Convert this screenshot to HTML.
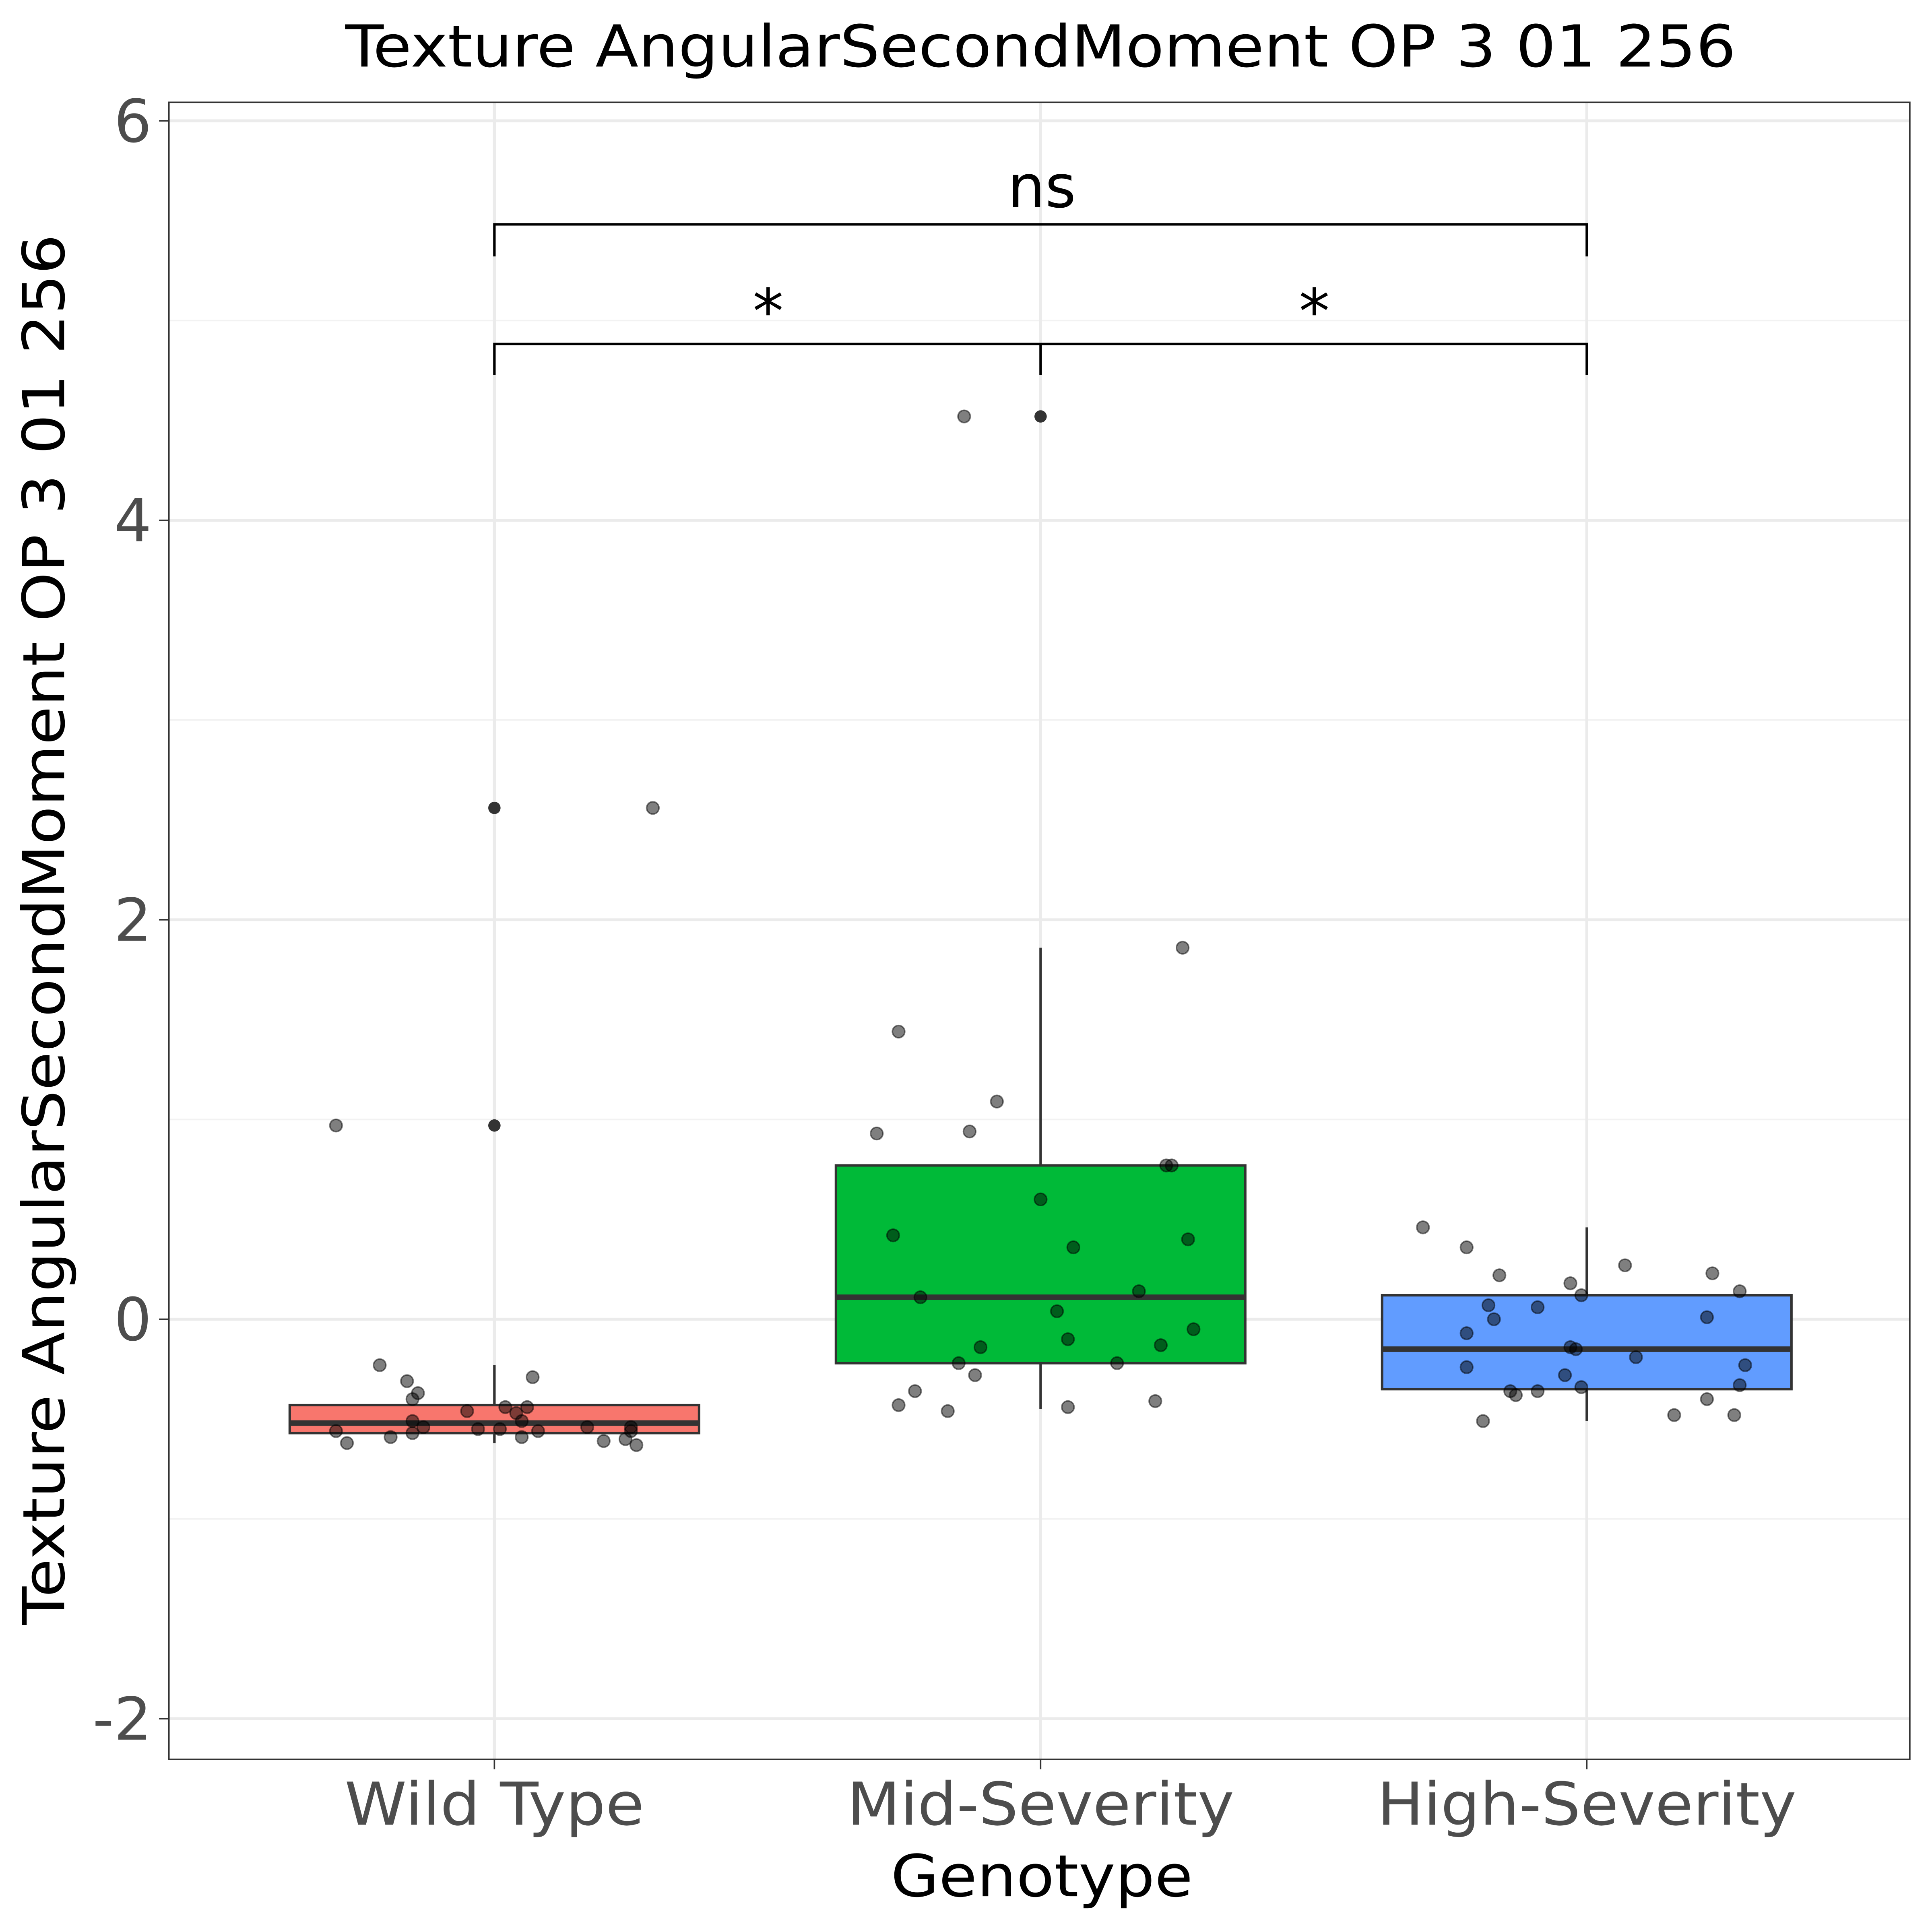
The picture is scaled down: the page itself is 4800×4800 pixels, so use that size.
<!DOCTYPE html>
<html><head><meta charset="utf-8"><style>
html,body{margin:0;padding:0;background:#fff;}
svg{display:block;}
text{font-family:"DejaVu Sans","Liberation Sans",sans-serif;}
</style></head><body>
<svg id="chart" width="4800" height="4800" viewBox="0 0 1567 1567" xmlns="http://www.w3.org/2000/svg">
<rect x="0" y="0" width="1567" height="1567" fill="#fff"/>
<g id="grid"></g>
<g id="boxes"></g>
<g id="points"></g>
<rect x="137" y="83" width="1412" height="1344" fill="none" stroke="#333" stroke-width="1.2"/>
<g id="axes"></g>
<g id="sig"></g>
<text x="844" y="54" font-size="47" text-anchor="middle" textLength="1128" lengthAdjust="spacingAndGlyphs" fill="#000">Texture AngularSecondMoment OP 3 01 256</text>
<text x="845" y="1538" font-size="47" text-anchor="middle" textLength="245" lengthAdjust="spacingAndGlyphs" fill="#000">Genotype</text>
<text transform="translate(52,754) rotate(-90)" font-size="47" text-anchor="middle" textLength="1128" lengthAdjust="spacingAndGlyphs" fill="#000">Texture AngularSecondMoment OP 3 01 256</text>
</svg>
<script>
const categories = ["Wild Type","Mid-Severity","High-Severity"];
const colors = ["#F8766D","#00BA38","#619CFF"];
const yTicks = [-2,0,2,4,6];
const yMinor = [-1,1,3,5];
const q1 = [-0.57,-0.22,-0.35];
const med = [-0.52,0.11,-0.15];
const q3 = [-0.43,0.77,0.12];
const whiskLo = [-0.62,-0.45,-0.51];
const whiskHi = [-0.23,1.86,0.46];
const outlierCat = [0,0,1];
const outlierVal = [0.97,2.56,4.52];
const wtVals = [0.97,2.56,-0.23,-0.31,-0.40,-0.37,-0.29,-0.46,-0.44,-0.44,-0.47,-0.51,-0.54,-0.57,-0.56,-0.62,-0.59,-0.55,-0.55,-0.51,-0.56,-0.59,-0.54,-0.54,-0.56,-0.61,-0.60,-0.63];
const wtJit = [-0.29,0.29,-0.21,-0.16,-0.15,-0.14,0.07,-0.05,0.02,0.06,0.04,-0.15,-0.13,-0.15,-0.29,-0.27,-0.19,-0.03,0.01,0.05,0.08,0.05,0.17,0.25,0.25,0.20,0.24,0.26];
const midVals = [4.52,1.86,1.44,1.09,0.93,0.94,0.77,0.77,0.60,0.42,0.36,0.40,0.11,0.14,0.04,-0.05,-0.10,-0.14,-0.13,-0.22,-0.22,-0.28,-0.36,-0.41,-0.43,-0.46,-0.44];
const midJit = [-0.14,0.26,-0.26,-0.08,-0.30,-0.13,0.23,0.24,0,-0.27,0.06,0.27,-0.22,0.18,0.03,0.28,0.05,-0.11,0.22,-0.15,0.14,-0.12,-0.23,0.21,-0.26,-0.17,0.05];
const highVals = [0.46,0.36,0.27,0.22,0.23,0.18,0.14,0.12,0.07,0.06,0.00,0.01,-0.07,-0.14,-0.15,-0.19,-0.24,-0.23,-0.28,-0.36,-0.38,-0.36,-0.34,-0.33,-0.40,-0.51,-0.48,-0.48];
const highJit = [-0.30,-0.22,0.07,-0.16,0.23,-0.03,0.28,-0.01,-0.18,-0.09,-0.17,0.22,-0.22,-0.03,-0.02,0.09,-0.22,0.29,-0.04,-0.14,-0.13,-0.09,-0.01,0.28,0.22,-0.19,0.16,0.27];
const tickLen = [243,314,340];
const NS="http://www.w3.org/2000/svg";
function y(v){return 1070-162*v;}
function x(i){return 401+443*i;}
function mk(tag,attrs,parent){const e=document.createElementNS(NS,tag);for(const k in attrs)e.setAttribute(k,attrs[k]);parent.appendChild(e);return e;}
const grid=document.getElementById('grid'),axes=document.getElementById('axes'),boxes=document.getElementById('boxes'),pts=document.getElementById('points'),sig=document.getElementById('sig');
yMinor.forEach(v=>{const l=mk('line',{x1:137,x2:1549,y1:y(v),y2:y(v),stroke:'#f2f2f2','stroke-width':1.2},grid);

});
yTicks.forEach(v=>{const l=mk('line',{x1:137,x2:1549,y1:y(v),y2:y(v),stroke:'#ebebeb','stroke-width':2.4},grid);


const t=mk('line',{x1:129,x2:137,y1:y(v),y2:y(v),stroke:'#333','stroke-width':1.2},axes);


const tx=mk('text',{x:123,y:y(v)+17,'font-size':48,'text-anchor':'end',fill:'#4d4d4d'},axes);tx.textContent=String(v);

});
categories.forEach((c,i)=>{const l=mk('line',{x1:x(i),x2:x(i),y1:83,y2:1427,stroke:'#ebebeb','stroke-width':2.4},grid);


const t=mk('line',{x1:x(i),x2:x(i),y1:1427,y2:1435,stroke:'#333','stroke-width':1.2},axes);


const tx=mk('text',{x:x(i),y:1480,'font-size':48,'text-anchor':'middle',textLength:tickLen[i],lengthAdjust:'spacingAndGlyphs',fill:'#4d4d4d'},axes);tx.textContent=c;


const w=mk('line',{x1:x(i),x2:x(i),y1:y(whiskHi[i]),y2:y(whiskLo[i]),stroke:'#333','stroke-width':2},boxes);


const b=mk('rect',{x:x(i)-166,width:332,y:y(q3[i]),height:y(q1[i])-y(q3[i]),fill:colors[i],stroke:'#333','stroke-width':2},boxes);


const m=mk('line',{x1:x(i)-166,x2:x(i)+166,y1:y(med[i]),y2:y(med[i]),stroke:'#333','stroke-width':4.5},boxes);

});
outlierVal.forEach((v,k)=>{const o=mk('circle',{cx:x(outlierCat[k]),cy:y(v),r:5,fill:'#333'},pts);

});
[[wtVals,wtJit],[midVals,midJit],[highVals,highJit]].forEach((s,i)=>{s[0].forEach((v,k)=>{const p=mk('circle',{cx:x(i)+s[1][k]*443,cy:y(v),r:5,fill:'rgba(0,0,0,0.5)',stroke:'rgba(0,0,0,0.5)','stroke-width':1.2},pts);

});});
const b1=mk('path',{d:`M${x(0)},208V182H${x(2)}V208`,fill:'none',stroke:'#000','stroke-width':2},sig);


const b2=mk('path',{d:`M${x(0)},304V279H${x(2)}V304M${x(1)},279V304`,fill:'none',stroke:'#000','stroke-width':2},sig);


const n1=mk('text',{x:845,y:168,'font-size':48,'text-anchor':'middle',fill:'#000'},sig);n1.textContent='ns';


const s1=mk('text',{x:623,y:270,'font-size':50,'text-anchor':'middle',fill:'#000'},sig);s1.textContent='*';


const s2=mk('text',{x:1066,y:270,'font-size':50,'text-anchor':'middle',fill:'#000'},sig);s2.textContent='*';


</script>
</body></html>
